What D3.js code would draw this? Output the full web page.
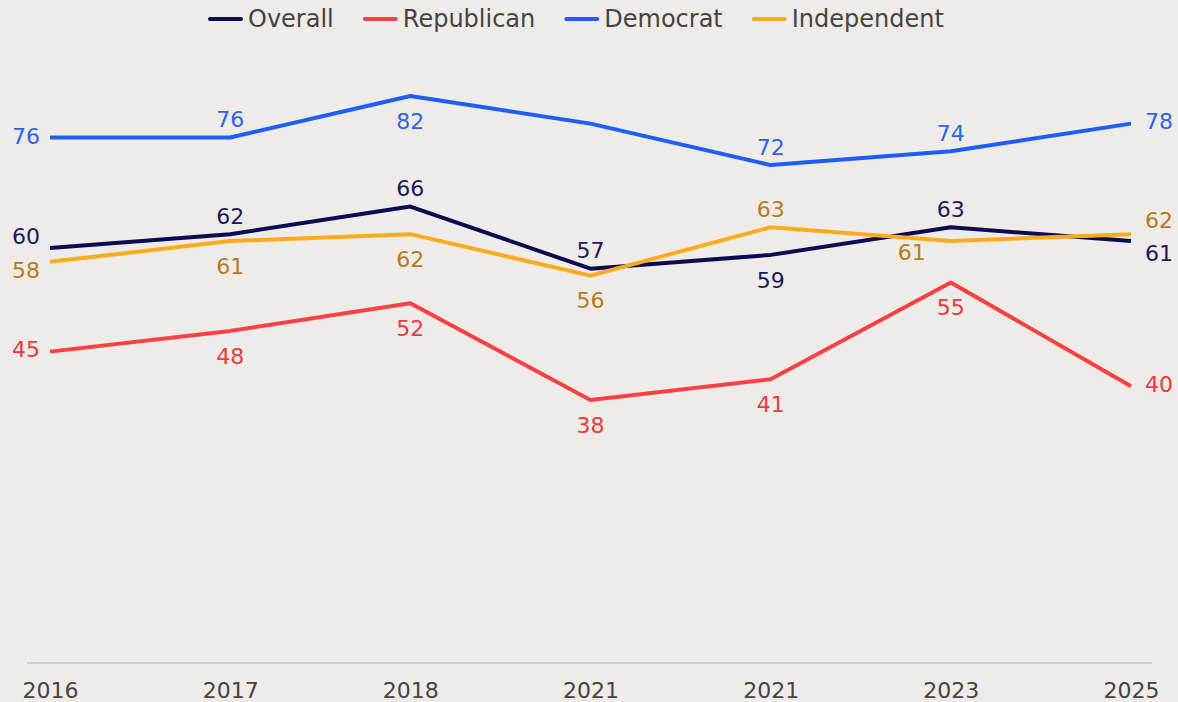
<!DOCTYPE html>
<html><head><meta charset="utf-8">
<script src="https://cdn.jsdelivr.net/npm/d3@7"></script>
<style>
html,body{margin:0;padding:0;background:#efebe8;}
svg{display:block;font-family:"DejaVu Sans",Lato,sans-serif;}
</style></head>
<body><svg id="c" width="1178" height="702"></svg>
<script>
const categories = ["2016","2017","2018","2021","2021 ","2023","2025"];
const tickLabels = ["2016","2017","2018","2021","2021","2023","2025"];
const overall     = [60, 62, 66, 57, 59, 63, 61];
const republican  = [45, 48, 52, 38, 41, 55, 40];
const democrat    = [76, 76, 82, 78, 72, 74, 78];
const independent = [58, 61, 62, 56, 63, 61, 62];
// which data labels are shown (Democrat 2021 first has no label in the source)
const democratShown = [true, true, true, false, true, true, true];

// label placement (style, not data)
const place = {
  Overall:     ["left","above","above","above","below","above","rightBelow"],
  Republican:  ["left","below","below","below","below","below","right"],
  Democrat:    ["left","above","below","above","above","above","right"],
  Independent: ["leftBelow","below","below","below","above","belowLeft","rightAbove"]
};

const series = [
  {name:"Overall", values:overall, line:"#0e0b52", text:"#1d1a5a"},
  {name:"Republican", values:republican, line:"#ff4143", text:"#ec3a3d"},
  {name:"Democrat", values:democrat, line:"#1e5dff", text:"#2f63ee", shown:democratShown},
  {name:"Independent", values:independent, line:"#ffab1e", text:"#b57c1e"}
];

const FONT = 22;
const svg = d3.select("#c");
const x = d3.scalePoint().domain(categories).range([50, 1131]);
const y = d3.scaleLinear().domain([0, 82]).range([662.5, 96]);

// axis baseline
svg.append("line").attr("x1",27).attr("x2",1152).attr("y1",663).attr("y2",663)
  .attr("stroke","#d0cdca").attr("stroke-width",2);

const xAxis = d3.axisBottom(x).tickSize(0).tickPadding(0).tickFormat((d,i)=>tickLabels[i]);
const gx = svg.append("g").attr("transform","translate(0,690)").call(xAxis);
gx.select(".domain").remove();
gx.selectAll("text").attr("font-size",FONT).attr("fill","#444").attr("dy","0.35em")
  .attr("font-family","'DejaVu Sans',sans-serif");

const line = d3.line().x((d,i)=>x(categories[i])).y(d=>y(d));

series.forEach(s=>{
  svg.append("path").datum(s.values).attr("d",line).attr("fill","none")
    .attr("stroke",s.line).attr("stroke-width",4).attr("stroke-linejoin","round");
});

series.forEach(s=>{
  const g = svg.append("g");
  s.values.forEach((v,i)=>{
    if (s.shown && !s.shown[i]) return;
    const px = x(categories[i]), py = y(v);
    const p = place[s.name][i];
    let tx = px, ty = py, anchor = "middle";
    if (p==="above") ty = py-18;
    else if (p==="below") ty = py+25;
    else if (p==="left") { tx = px-10; anchor="end"; ty = py-6; }
    else if (p==="leftBelow") { tx = px-10; anchor="end"; ty = py+8; }
    else if (p==="right") { tx = px+14; anchor="start"; ty = py-2; }
    else if (p==="rightBelow") { tx = px+14; anchor="start"; ty = py+12; }
    else if (p==="rightAbove") { tx = px+14; anchor="start"; ty = py-14; }
    else if (p==="belowLeft") { tx = px-39; ty = py+11; }
    if (s.name==="Overall" && i===0) ty = py-12;
    if (s.name==="Republican" && i===0) ty = py-2;
    if (s.name==="Democrat" && i===0) ty = py-1;
    g.append("text").attr("x",tx).attr("y",ty).attr("dy","0.35em")
      .attr("text-anchor",anchor).attr("font-size",FONT).attr("fill",s.text).text(v);
  });
});

// legend
const lg = svg.append("g");
let lx = 210;
series.forEach((s,i)=>{
  lg.append("line").attr("x1",lx).attr("x2",lx+31).attr("y1",19).attr("y2",19)
    .attr("stroke",s.line).attr("stroke-width",4).attr("stroke-linecap","round");
  const t = lg.append("text").attr("x",lx+38).attr("y",19).attr("dy","0.35em")
    .attr("font-size",24).attr("fill","#444").text(s.name);
  lx = lx + 38 + t.node().getComputedTextLength() + 31;
});
</script></body></html>
